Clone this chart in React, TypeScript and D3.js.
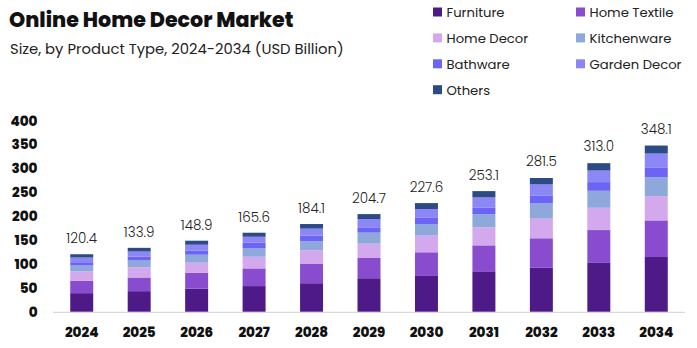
import React from "react";
import * as d3 from "d3";

const years = ["2024","2025","2026","2027","2028","2029","2030","2031","2032","2033","2034"];
const totals = [120.4,133.9,148.9,165.6,184.1,204.7,227.6,253.1,281.5,313.0,348.1];
const seriesNames = ["Furniture","Home Textile","Home Decor","Kitchenware","Bathware","Garden Decor","Others"];
const furniture = [38.8,43.0,48.2,53.6,59.6,70.0,74.8,84.5,91.8,103.2,114.4];
const homeTextile = [25.9,28.6,33.4,37.0,41.1,42.4,49.5,54.3,61.8,67.6,76.6];
const homeDecor = [19.4,21.5,20.9,24.4,27.8,30.0,34.9,37.6,41.1,46.6,50.7];
const kitchenware = [12.5,14.0,16.7,18.0,18.8,23.0,24.2,27.8,31.9,35.5,39.7];
const bathware = [6.9,8.4,9.0,11.9,11.9,11.1,14.0,14.0,16.7,18.2,19.6];
const gardenDecor = [9.8,10.4,11.9,11.9,14.6,17.3,17.3,20.9,23.0,24.2,29.9];
const others = [6.9,7.7,8.4,8.4,9.6,10.4,12.5,13.2,13.4,15.4,16.7];
const yTicks = [0,50,100,150,200,250,300,350,400];
const colors = ["#4e1a87","#8a4ccf","#d4a8ec","#8fa8dc","#6c64f5","#8c87f7","#2c4a85"];

const seriesValues = [furniture, homeTextile, homeDecor, kitchenware, bathware, gardenDecor, others];

export default function App() {
  const W = 697, H = 348;
  const x = d3.scaleBand<string>().domain(years).range([53, 685]).paddingInner(0.6).paddingOuter(0.3);
  const y = d3.scaleLinear().domain([0, 400]).range([311.7, 120.5]);
  const rows = years.map((yr, i) => {
    const r: any = { year: yr };
    seriesNames.forEach((s, k) => { r[s] = seriesValues[k][i]; });
    return r;
  });
  const stacked = d3.stack<any>().keys(seriesNames)(rows);
  const font = "Poppins, 'Inter', 'Noto Sans', sans-serif";
  const legendPos = seriesNames.map((_, i) => ({ col: i % 2, row: Math.floor(i / 2) }));
  return (
    <svg width={W} height={H} style={{ position: "absolute", left: 0, top: 0, background: "#fff" }} fontFamily={font}>
      <rect width={W} height={H} fill="#fff" />
      <text x={9} y={26.5} fontSize={20.6} fontWeight={800} fill="#111">Online Home Decor Market</text>
      <text x={10} y={54} fontSize={14.8} fill="#222">Size, by Product Type, 2024-2034 (USD Billion)</text>
      {seriesNames.map((s, i) => {
        const lx = legendPos[i].col === 0 ? 433 : 576;
        const ly = 12 + legendPos[i].row * 25.9;
        return (
          <g key={s}>
            <rect x={lx} y={ly - 4.5} width={9} height={9} fill={colors[i]} />
            <text x={lx + 13.5} y={ly + 5} fontSize={13.2} fill="#222">{s}</text>
          </g>
        );
      })}
      {yTicks.map(t => (
        <text key={t} x={37.5} y={y(t) + 5} textAnchor="end" fontSize={13.5} fontWeight={800} fill="#111">{t}</text>
      ))}
      <line x1={53} x2={685} y1={312.3} y2={312.3} stroke="#d0d0d0" strokeWidth={1} />
      {stacked.map((layer, k) => (
        <g key={k} fill={colors[k]}>
          {layer.map((d, i) => (
            <rect key={i} x={x(years[i])} width={x.bandwidth()} y={y(d[1])} height={y(d[0]) - y(d[1])} />
          ))}
        </g>
      ))}
      {years.map((yr, i) => (
        <text key={yr} x={(x(yr) as number) + x.bandwidth() / 2} y={y(totals[i]) - 11} textAnchor="middle" fontSize={13.5} fontWeight={300} fill="#222">{totals[i].toFixed(1)}</text>
      ))}
      {years.map(yr => (
        <text key={yr} x={(x(yr) as number) + x.bandwidth() / 2} y={337} textAnchor="middle" fontSize={13.5} fontWeight={800} fill="#111">{yr}</text>
      ))}
    </svg>
  );
}
